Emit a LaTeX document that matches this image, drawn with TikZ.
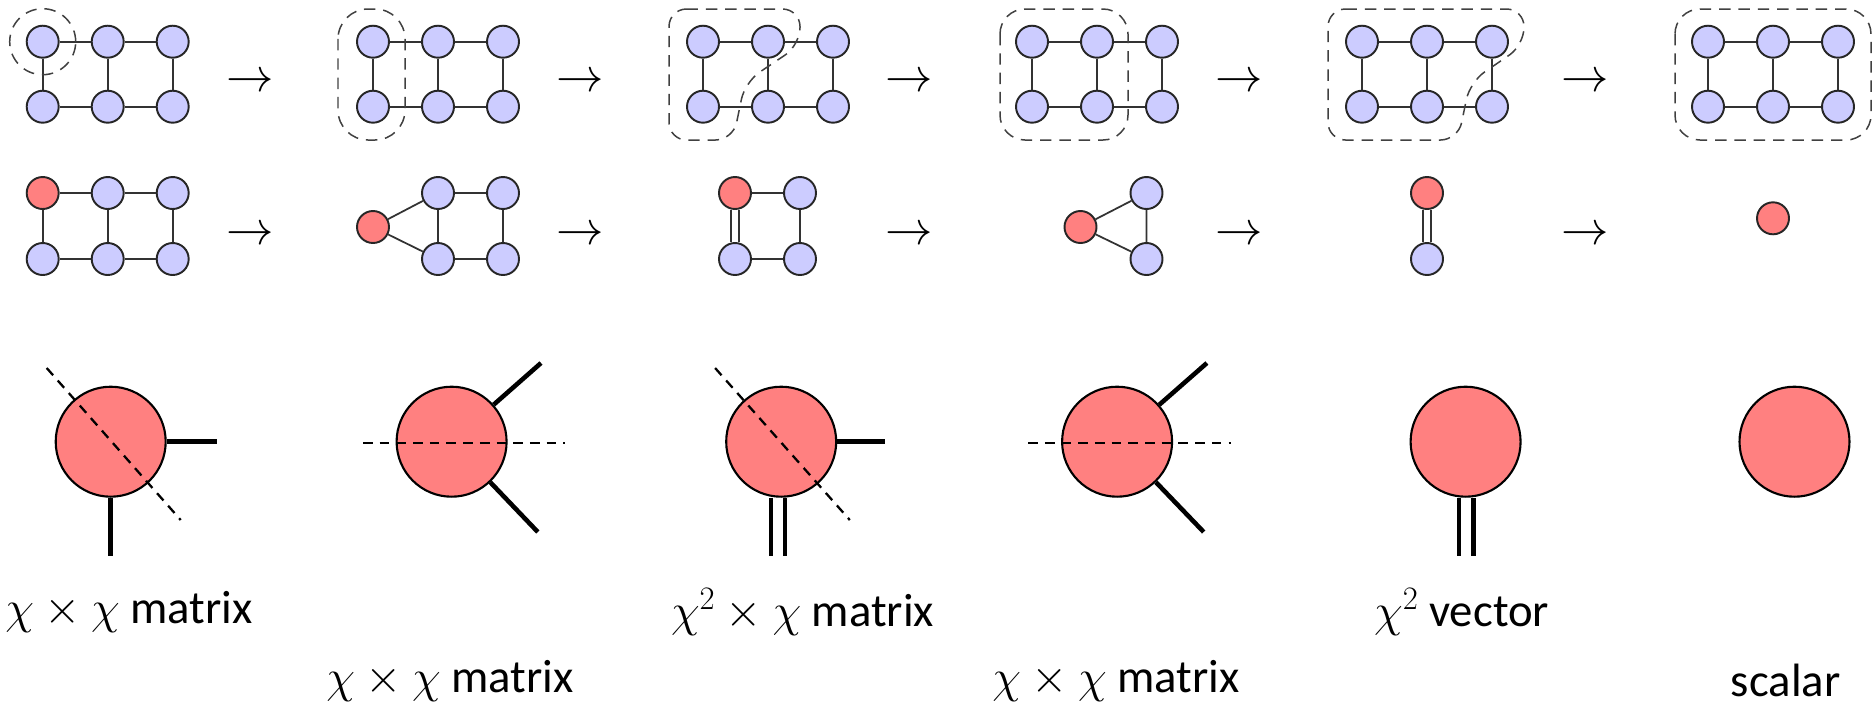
\documentclass[tikz,border=0pt]{standalone}
\usepackage{fix-cm}
\usepackage{fontspec}
\setmainfont{Carlito}
\usepackage{amsmath}

\definecolor{sitecol}{RGB}{204,204,255}
\definecolor{tensorcol}{RGB}{255,128,128}

\begin{document}
\begin{tikzpicture}[x=0.02cm,y=-0.02cm,
	site/.style={circle,draw=black!85,line width=1.1pt,fill=sitecol,inner sep=0pt,minimum size=0.64cm},
	redsite/.style={site,fill=tensorcol},
	bond/.style={line width=1pt,draw=black!80},
	dbond/.style={bond,double,double distance=3.4pt},
	cut/.style={line width=0.85pt,draw=black!75,dash pattern=on 6.5pt off 4.5pt,rounded corners=0.35cm},
	arr/.style={font=\fontsize{27}{30}\selectfont,inner sep=0pt},
	tensor/.style={circle,draw,line width=1.2pt,fill=tensorcol,inner sep=0pt,minimum size=2.2cm},
	leg/.style={line width=2.6pt},
	dleg/.style={leg,double,double distance=5.6pt},
	fold/.style={line width=1.3pt,dash pattern=on 5.5pt off 4pt},
	lbl/.style={font=\fontsize{26.6}{30}\selectfont,inner sep=0pt}]
	\useasboundingbox (0,0) rectangle (1874,704);
	% contraction order on the 2x3 lattice
	\foreach \g/\ox in {1/42.7,2/373,3/703,4/1032,5/1362,6/1708}{
		\foreach \i in {1,2,3}{
			\node[site] (t\g\i) at ({\ox+(\i-1)*65},41.7) {};
			\node[site] (b\g\i) at ({\ox+(\i-1)*65},106.7) {};
		}
		\draw[bond] (t\g1) -- (t\g2) -- (t\g3) -- (b\g3) -- (b\g2) -- (b\g1) -- (t\g1) (t\g2) -- (b\g2);
	}
	\draw[cut] (t11.center) circle (0.66cm);
	\draw[cut,rounded corners=0.6cm] (338,9) rectangle (405,140);
	\draw[cut] (669,9) -- (800,9) -- (800,45) -- (745,82) -- (733,140) -- (669,140) -- cycle;
	\draw[cut,rounded corners=0.5cm] (1000,9) rectangle (1128,140);
	\draw[cut] (1328,9) -- (1524,9) -- (1524,45) -- (1470,82) -- (1458,140) -- (1328,140) -- cycle;
	\draw[cut,rounded corners=0.5cm] (1675,9) rectangle (1871,140);
	\foreach \k/\ax in {1/250.7,2/580,3/909,4/1239.5,5/1585.5}{
		\node[arr] (ra\k) at (\ax,83) {$\rightarrow$};
		\node[arr] (rb\k) at (\ax,236) {$\rightarrow$};
	}
	% the same steps as a shrinking network
	\node[redsite] (u11) at (42.7,193) {};
	\node[site] (u12) at (107.7,193) {};
	\node[site] (u13) at (172.7,193) {};
	\node[site] (v11) at (42.7,259) {};
	\node[site] (v12) at (107.7,259) {};
	\node[site] (v13) at (172.7,259) {};
	\draw[bond] (u11) -- (u12) -- (u13) -- (v13) -- (v12) -- (v11) -- (u11) (u12) -- (v12);
	\node[redsite] (w2) at (373,227) {};
	\node[site] (u22) at (438,193) {};
	\node[site] (u23) at (503,193) {};
	\node[site] (v22) at (438,259) {};
	\node[site] (v23) at (503,259) {};
	\draw[bond] (w2) -- (u22) -- (u23) -- (v23) -- (v22) -- (w2) (u22) -- (v22);
	\node[redsite] (u31) at (735,193) {};
	\node[site] (u32) at (800,193) {};
	\node[site] (v31) at (735,259) {};
	\node[site] (v32) at (800,259) {};
	\draw[bond] (u31) -- (u32) -- (v32) -- (v31);
	\draw[dbond] (u31) -- (v31);
	\node[redsite] (w4) at (1080.5,227) {};
	\node[site] (u42) at (1146.5,193) {};
	\node[site] (v42) at (1146.5,259) {};
	\draw[bond] (w4) -- (u42) -- (v42) -- (w4);
	\node[redsite] (u51) at (1427,193) {};
	\node[site] (v51) at (1427,259) {};
	\draw[dbond] (u51) -- (v51);
	\node[redsite] (w6) at (1773,218.3) {};
	% the red tensor at each step
	\node[tensor] (m1) at (110.7,441.7) {};
	\coordinate (m1e) at (216.7,441.7);
	\coordinate (m1s) at (110.7,556);
	\coordinate (m1a) at (46.7,368);
	\coordinate (m1b) at (180.7,520);
	\draw[leg] (m1) -- (m1e) (m1) -- (m1s);
	\draw[fold] (m1a) -- (m1b);
	\node[tensor] (m2) at (451.6,441.7) {};
	\coordinate (m2u) at (541,363);
	\coordinate (m2d) at (537.8,532);
	\coordinate (m2a) at (363,443);
	\coordinate (m2b) at (565.4,443);
	\draw[leg] (m2) -- (m2u) (m2) -- (m2d);
	\draw[fold] (m2a) -- (m2b);
	\node[tensor] (m3) at (781.2,441.7) {};
	\coordinate (m3e) at (885.3,441.7);
	\coordinate (m3s) at (778,556);
	\coordinate (m3a) at (715.1,368);
	\coordinate (m3b) at (849.8,520);
	\draw[leg] (m3) -- (m3e);
	\draw[dleg] (m3s |- m3.south) -- (m3s);
	\draw[fold] (m3a) -- (m3b);
	\node[tensor] (m4) at (1117.1,441.7) {};
	\coordinate (m4u) at (1206.9,363);
	\coordinate (m4d) at (1203.7,532);
	\coordinate (m4a) at (1028.2,443);
	\coordinate (m4b) at (1231,443);
	\draw[leg] (m4) -- (m4u) (m4) -- (m4d);
	\draw[fold] (m4a) -- (m4b);
	\node[tensor] (m5) at (1465.6,441.7) {};
	\coordinate (m5s) at (1466,556);
	\draw[dleg] (m5s |- m5.south) -- (m5s);
	\node[tensor] (m6) at (1794.5,441.7) {};
	\node[lbl] (l1) at (129,612) {$\chi\times\chi$ matrix};
	\node[lbl] (l2) at (450,681) {$\chi\times\chi$ matrix};
	\node[lbl] (l3) at (802.6,612) {$\chi^2\times\chi$ matrix};
	\node[lbl] (l4) at (1116,681) {$\chi\times\chi$ matrix};
	\node[lbl] (l5) at (1461.6,612) {$\chi^2$ vector};
	\node[lbl] (l6) at (1785.7,680) {scalar};
\end{tikzpicture}
\end{document}
